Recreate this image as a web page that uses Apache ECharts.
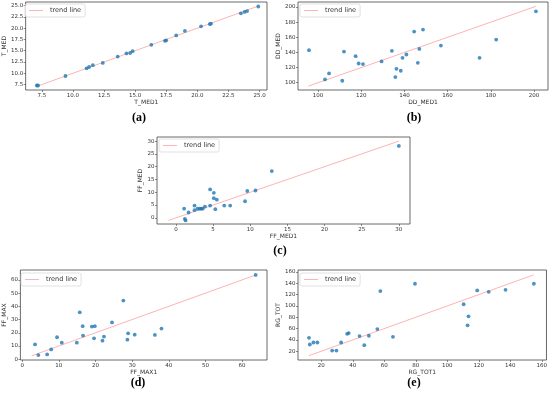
<!DOCTYPE html>
<html><head><meta charset="utf-8">
<script src="https://cdn.jsdelivr.net/npm/echarts@6/dist/echarts.min.js"></script>
<style>html,body{margin:0;padding:0;background:#fff}#c{width:550px;height:395px}</style>
</head><body><div id="c"></div>
<script>
// ---- data ----
const aX = [7.1, 7.2, 9.4, 11.1, 11.3, 11.6, 12.4, 13.6, 14.3, 14.6, 14.8, 16.3, 17.4, 17.5, 18.3, 19.0, 20.3, 21.0, 21.1, 23.5, 23.8, 24.0, 24.9];
const aY = [7.3, 7.3, 9.4, 11.1, 11.4, 11.8, 12.3, 13.7, 14.4, 14.5, 14.9, 16.3, 17.2, 17.3, 18.4, 19.4, 20.4, 20.9, 21.0, 23.3, 23.6, 23.8, 24.8];
const aTrend = [7.1, 24.9];

const bX = [95.8, 103.2, 105.1, 111.2, 112.0, 117.4, 118.8, 120.8, 129.4, 134.2, 135.8, 136.3, 138.3, 139.1, 140.9, 144.5, 146.2, 146.9, 148.6, 156.9, 174.8, 182.5, 200.9];
const bY = [143.0, 104.4, 112.3, 102.6, 141.2, 135.1, 125.4, 124.6, 128.1, 142.1, 107.5, 118.4, 115.8, 132.9, 137.3, 167.5, 126.3, 144.7, 170.2, 149.1, 132.9, 157.0, 194.3];
const bTrend = [95.5, 200.9];

const cX = [1.1, 1.2, 1.3, 1.7, 2.5, 2.5, 2.9, 3.2, 3.4, 3.6, 3.9, 4.6, 4.6, 5.1, 5.1, 5.3, 5.5, 6.5, 7.3, 9.3, 9.6, 10.7, 12.9, 30.0];
const cY = [3.6, -0.4, -1.0, 2.1, 4.8, 3.0, 3.6, 3.6, 3.6, 3.6, 4.4, 4.8, 11.1, 9.8, 7.7, 3.4, 7.1, 4.8, 4.8, 6.5, 10.5, 10.7, 18.3, 28.1];
const cTrend = [-1.0, 30.0];

const dX = [3.5, 4.4, 6.8, 7.9, 9.5, 10.8, 14.9, 15.7, 16.5, 16.6, 19.0, 19.8, 19.6, 21.9, 22.3, 24.5, 27.6, 28.7, 28.9, 30.7, 36.2, 38.0, 63.7];
const dY = [11.2, 3.1, 3.6, 7.4, 16.6, 12.5, 12.5, 35.5, 25.0, 17.9, 24.7, 25.0, 15.8, 14.0, 17.1, 27.8, 44.4, 14.8, 19.6, 18.6, 18.4, 23.2, 63.8];
const dTrend = [2.6, 63.7];

const eX = [12.2, 12.7, 15.0, 17.5, 26.9, 29.6, 32.6, 36.4, 37.4, 44.3, 47.3, 50.2, 55.6, 57.5, 65.5, 79.5, 110.4, 112.9, 113.5, 119.0, 126.3, 137.0, 155.0];
const eY = [43.7, 31.9, 35.4, 35.4, 21.2, 21.2, 35.4, 50.8, 52.0, 46.7, 30.7, 47.3, 59.1, 126.2, 45.5, 139.2, 103.0, 65.7, 81.7, 127.4, 125.0, 128.5, 139.2];
const eTrend = [12.0, 155.0];

const names = [['T_MED1','T_MED'],['DD_MED1','DD_MED'],['FF_MED1','FF_MED'],['FF_MAX1','FF_MAX'],['RG_TOT1','RG_TOT']];
const aTicks = [7.5, 10.0, 12.5, 15.0, 17.5, 20.0, 22.5, 25.0];
const bTicks = [100, 120, 140, 160, 180, 200];
const cTicks = [0, 5, 10, 15, 20, 25, 30];
const dTicks = [0, 10, 20, 30, 40, 50, 60];
const eTicks = [20, 40, 60, 80, 100, 120, 140, 160];
const captions = ['(a)','(b)','(c)','(d)','(e)'];

// ---- layout ----
const panels = [
  {xs:aX, ys:aY, tr:aTrend, ticks:aTicks, dec:1, grid:{left:23, top:2, width:244, height:88}, xr:[6.2,25.6], yr:[6.3,25.8], leg:{left:25, top:4}, cap:[139,118], yGap:13},
  {xs:bX, ys:bY, tr:bTrend, ticks:bTicks, dec:0, grid:{left:298, top:2, width:250, height:88}, xr:[90.7,206.5], yr:[90.4,206.6], leg:{left:300, top:4}, cap:[414,118], yGap:12},
  {xs:cX, ys:cY, tr:cTrend, ticks:cTicks, dec:0, grid:{left:157, top:137, width:253, height:87}, xr:[-2.55,31.5], yr:[-2.4,31.6], leg:{left:159, top:139}, cap:[280,251], yGap:9},
  {xs:dX, ys:dY, tr:dTrend, ticks:dTicks, dec:0, grid:{left:19, top:270, width:248, height:90}, xr:[-0.5,66.8], yr:[-0.6,67.5], leg:{left:21, top:273}, cap:[138,383], yGap:9},
  {xs:eX, ys:eY, tr:eTrend, ticks:eTicks, dec:0, grid:{left:298, top:270, width:250, height:90}, xr:[5.2,163.0], yr:[4.5,163.5], leg:{left:300, top:273}, cap:[414,383], yGap:12}
];

const tickFont = {fontFamily:'DejaVu Sans', fontSize:5.5, color:'#333'};
const grids=[], xAxes=[], yAxes=[], series=[], legends=[], graphics=[];
panels.forEach((p,i)=>{
  grids.push(Object.assign({show:true, borderColor:'#444', borderWidth:0.8, backgroundColor:'#fff'}, p.grid));
  const fmt = v => Number(v).toFixed(p.dec);
  const ax = (range, name, isY) => ({
    type:'value', gridIndex:i, min:range[0], max:range[1],
    name:name, nameLocation:'middle', nameGap: isY ? p.yGap : 8,
    nameTextStyle:{fontFamily:'DejaVu Sans', fontSize:6, color:'#333'},
    axisLine:{show:false, onZero:false}, splitLine:{show:false},
    axisTick:{show:true, length:2, lineStyle:{color:'#444', width:0.6}, customValues:p.ticks},
    axisLabel:{show:true, margin:2.5, formatter:fmt, customValues:p.ticks, ...tickFont}
  });
  xAxes.push(ax(p.xr, names[i][0], false));
  yAxes.push(ax(p.yr, names[i][1], true));
  series.push({
    type:'line', name:'trend line', xAxisIndex:i, yAxisIndex:i, symbol:'none', silent:true,
    lineStyle:{color:'#ffb3b3', width:1}, itemStyle:{color:'#ffb3b3'},
    data:p.tr.map(v=>[v,v]), z:2, animation:false
  });
  series.push({
    type:'scatter', name:'pts'+i, xAxisIndex:i, yAxisIndex:i, symbolSize:3.8,
    itemStyle:{color:'#1f77b4'}, data:p.xs.map((x,k)=>[x,p.ys[k]]), z:3, animation:false
  });
  legends.push({
    data:[{name:'trend line', icon:'rect'}], left:p.leg.left, top:p.leg.top,
    orient:'vertical', itemWidth:14, itemHeight:1, itemGap:2,
    padding:[3,4,3,4], borderColor:'#ccc', borderWidth:0.6, borderRadius:2, backgroundColor:'rgba(255,255,255,0.8)',
    textStyle:{fontFamily:'DejaVu Sans', fontSize:6.5, color:'#333', padding:[0,0,0,2]},
    selectedMode:false
  });
  graphics.push({
    type:'text', x:p.cap[0], y:p.cap[1],
    style:{text:captions[i], font:'bold 12px "Liberation Serif"', fill:'#000', textAlign:'center', textVerticalAlign:'middle'}
  });
});

const chart = echarts.init(document.getElementById('c'), null, {renderer:'canvas'});
chart.setOption({
  animation:false,
  grid:grids, xAxis:xAxes, yAxis:yAxes, series:series, legend:legends, graphic:graphics
});
</script>
</body></html>
